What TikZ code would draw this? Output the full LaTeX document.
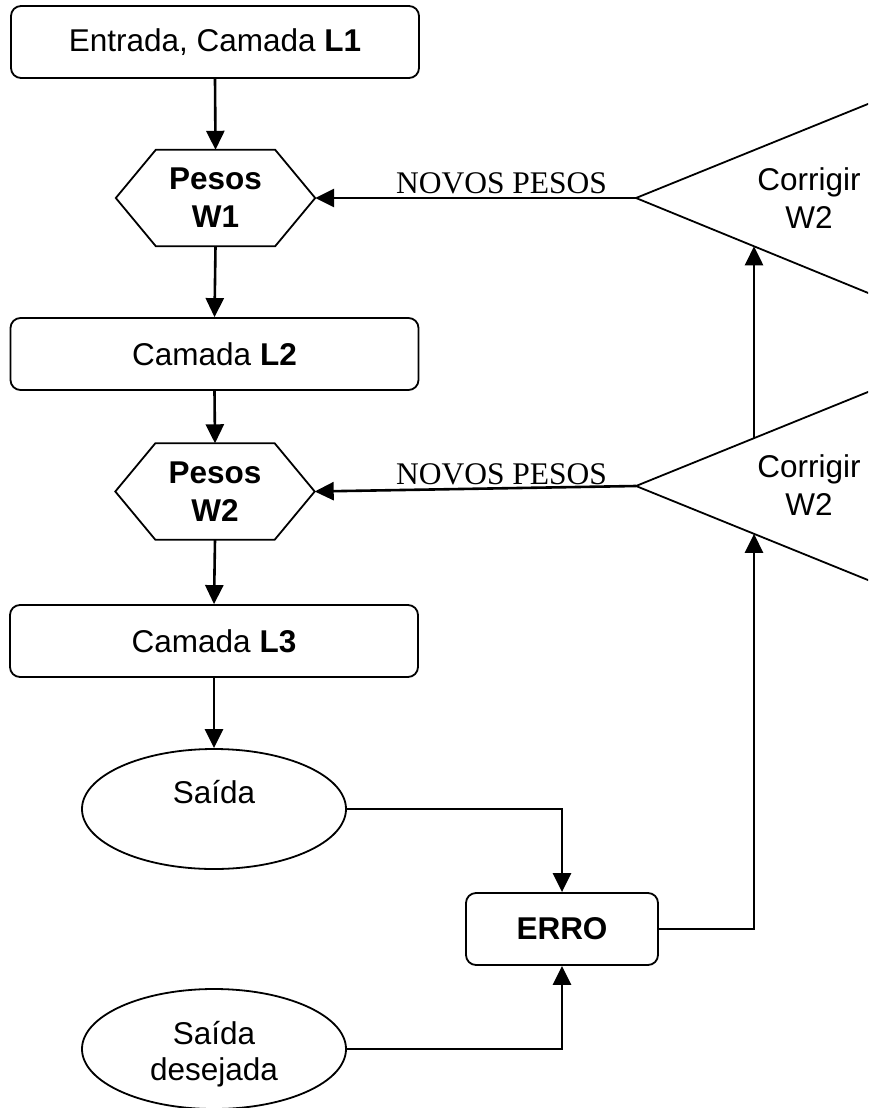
\documentclass[tikz,border=0pt]{standalone}
\usepackage{fontspec}
\setmainfont{Liberation Sans}
\newfontfamily\labelserif{Liberation Serif}
\usetikzlibrary{arrows.meta,shapes.geometric,calc}

\begin{document}
\begin{tikzpicture}[x=1pt,y=-1pt,
  txt/.style={font=\fontsize{31.5}{37.5}\selectfont},
  box/.style={txt, draw, line width=1.8pt, rounded corners=10pt,
    minimum width=408pt, minimum height=72pt, inner sep=0pt},
  hexa/.style={minimum width=199pt, minimum height=96pt, inner sep=0pt,
    align=center, font=\fontsize{31.5}{38}\selectfont\bfseries},
  oval/.style={draw, ellipse, line width=1.8pt, minimum width=264pt,
    minimum height=120pt, inner sep=0pt},
  outline/.style={line width=1.8pt, line join=miter},
  flow/.style={line width=2.6pt, -{Triangle[length=19pt,width=18pt]}},
  novos/.style={font=\labelserif\fontsize{31.5}{37}\selectfont, anchor=base, inner sep=0pt}]

\useasboundingbox (0,0) rectangle (868,1108);
\clip (0,0) rectangle (868,1108);

% main column
\node[box] (l1) at (215,42) {Entrada, Camada \textbf{L1}};
\node[hexa] (w1) at (215.5,198) {Pesos\\W1};
\node[box] (l2) at (214.5,354) {Camada \textbf{L2}};
\node[hexa] (w2) at (215,491.5) {Pesos\\W2};
\node[box] (l3) at (214,641) {Camada \textbf{L3}};

% hexagon outlines
\foreach \h in {w1,w2}{
  \draw[outline] (\h.west) -- ($(\h.north west)+(40,0)$) -- ($(\h.north east)+(-40,0)$)
    -- (\h.east) -- ($(\h.south east)+(-40,0)$) -- ($(\h.south west)+(40,0)$) -- cycle;
}

% outputs and error
\node[oval] (saida) at (214,809) {};
\node[txt, anchor=base] (saidatxt) at (214,803) {Saída};
\node[oval] (desej) at (214,1049) {};
\node[anchor=base, align=center, font=\fontsize{31.5}{36}\selectfont] (desejtxt) at (214,1080) {Saída\\desejada};
\node[box, minimum width=192pt, font=\fontsize{31.5}{37.5}\selectfont\bfseries] (erro) at (562,929) {ERRO};

% correction triangles (open to the right)
\coordinate (a1) at (636,198);
\coordinate (t1u) at (900,91);
\coordinate (t1d) at (900,306);
\coordinate (a2) at (636,486);
\coordinate (t2u) at (900,379);
\coordinate (t2d) at (900,593);
\draw[outline] (t1u) -- (a1) -- (t1d);
\draw[outline] (t2u) -- (a2) -- (t2d);
\coordinate (e1) at ($(a1)!0.447!(t1d)$);
\coordinate (e2s) at ($(a2)!0.447!(t2u)$);
\coordinate (e2) at ($(a2)!0.447!(t2d)$);
\node[txt, align=center] (k1) at (809,198) {Corrigir\\W2};
\node[txt, align=center] (k2) at (809,485) {Corrigir\\W2};

% labels on the feedback lines
\node[novos] (np1) at (501.5,193) {NOVOS PESOS};
\node[novos] (np2) at (501.5,484) {NOVOS PESOS};

% connectors
\draw[flow] (l1.south) -- (w1.north);
\draw[flow] (w1.south) -- (l2.north);
\draw[flow] (l2.south) -- (w2.north);
\draw[flow] (w2.south) -- (l3.north);
\draw[flow] (l3.south) -- (saida.north);
\draw[flow] (saida.east) -| (erro.north);
\draw[flow] (desej.east) -| (erro.south);
\draw[flow] (erro.east) -| (e2);
\draw[flow] (e2s) -- (e1);
\draw[flow] (a1) -- (w1.east);
\draw[flow] (a2) -- (w2.east);
\end{tikzpicture}
\end{document}
